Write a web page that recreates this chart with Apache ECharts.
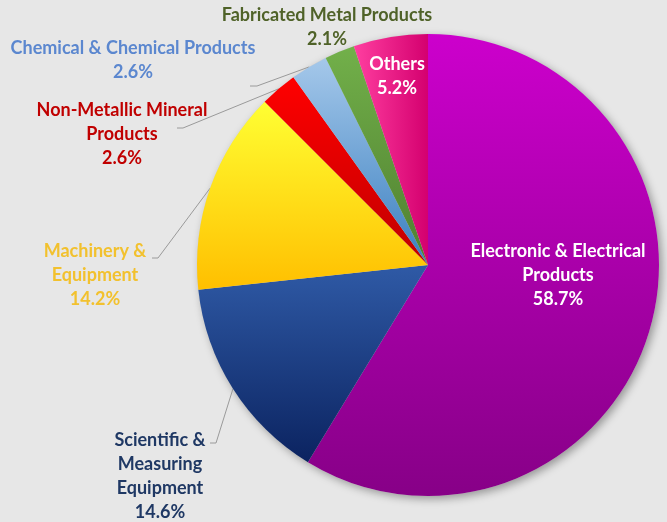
<!DOCTYPE html>
<html>
<head>
<meta charset="utf-8">
<script src="https://cdn.jsdelivr.net/npm/echarts@6/dist/echarts.min.js"></script>
<style>
html,body{margin:0;padding:0;background:#e7e7e7;}
#c{width:667px;height:522px;}
</style>
</head>
<body>
<div id="c"></div>
<script>
const categories = ['Electronic & Electrical Products', 'Scientific & Measuring Equipment', 'Machinery & Equipment', 'Non-Metallic Mineral Products', 'Chemical & Chemical Products', 'Fabricated Metal Products', 'Others'];
const values = [58.7, 14.6, 14.2, 2.6, 2.6, 2.1, 5.2];
const labelTexts = ['Electronic & Electrical\nProducts', 'Scientific &\nMeasuring\nEquipment', 'Machinery &\nEquipment', 'Non-Metallic Mineral\nProducts', 'Chemical & Chemical Products', 'Fabricated Metal Products', 'Others'];
const gradTop = ['#cc00cc', '#2f5aa6', '#ffff33', '#ff0000', '#a5c8ea', '#72b04a', '#ff3fa0'];
const gradBottom = ['#870087', '#0b2360', '#ffbf00', '#c00000', '#3a7fc0', '#4f7f30', '#d4006f'];
const labelColors = ['#ffffff', '#1f3864', '#f2c12e', '#c00000', '#5b87cf', '#4f6228', '#ffffff'];

// label placement (text-block centres) and leader-line stubs
const labelPos = [[558, 275], [160, 476], [95, 275], [122, 134], [133, 60], [327, 27], [397, 76]];
const stubs = [null, [[216, 443], [210, 443]], [[158, 258], [152, 258]], [[183, 128], [177, 128]], [[257, 86], [250, 86]], null, null];

const chart = echarts.init(document.getElementById('c'), null, {renderer: 'canvas'});
const FONT = 'Lato';
const total = values.reduce((a, b) => a + b, 0);

const data = values.map((v, i) => {
  const inside = (i === 0 || i === 6);
  const grad = i === 6
    ? new echarts.graphic.LinearGradient(0, 0, 1, 0, [{offset: 0, color: gradTop[i]}, {offset: 1, color: gradBottom[i]}])
    : new echarts.graphic.LinearGradient(0, 0, 0, 1, [{offset: 0, color: gradTop[i]}, {offset: 1, color: gradBottom[i]}]);
  return {
    name: categories[i],
    value: v,
    itemStyle: {color: grad},
    label: {
      position: inside ? 'inside' : 'outside',
      color: labelColors[i]
    },
    labelLine: {show: stubs[i] !== null}
  };
});

chart.setOption({
  backgroundColor: '#e7e7e7',
  animation: false,
  series: [
    {
      type: 'pie',
      silent: true,
      z: 1,
      center: [428, 265],
      radius: 231,
      data: [{value: total, itemStyle: {color: '#d0d0d0', shadowBlur: 8, shadowOffsetX: 3, shadowOffsetY: 3, shadowColor: 'rgba(0,0,0,0.35)'}}],
      label: {show: false},
      labelLine: {show: false}
    },
    {
      type: 'pie',
      z: 2,
      center: [428, 265],
      radius: 231,
      startAngle: 90,
      clockwise: true,
      avoidLabelOverlap: false,
      data: data,
      label: {
        show: true,
        fontFamily: FONT,
        fontWeight: 'bold',
        fontSize: 18,
        lineHeight: 24,
        align: 'center',
        formatter: p => labelTexts[p.dataIndex] + '\n' + p.value.toFixed(1) + '%'
      },
      labelLine: {
        show: true,
        lineStyle: {color: '#9a9a9a', width: 1}
      },
      labelLayout: function (params) {
        const i = params.dataIndex;
        const out = {
          x: labelPos[i][0],
          y: labelPos[i][1],
          align: 'center',
          verticalAlign: 'middle'
        };
        if (stubs[i] && params.labelLinePoints) {
          out.labelLinePoints = [params.labelLinePoints[0], stubs[i][0], stubs[i][1]];
        }
        return out;
      }
    }
  ]
});
</script>
</body>
</html>
